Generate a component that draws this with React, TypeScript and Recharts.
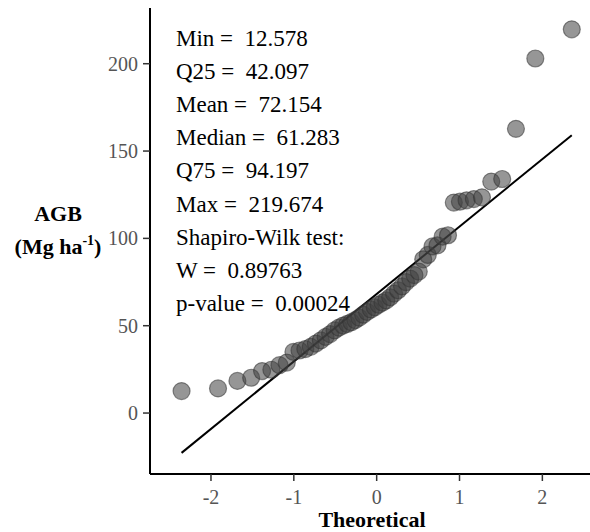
import React from 'react';
import {
  ScatterChart, Scatter, XAxis, YAxis, ReferenceLine,
} from 'recharts';

// theoretical normal quantiles for n = 54
const theoretical = [
  -2.355, -1.915, -1.681, -1.515, -1.383, -1.271, -1.173, -1.085, -1.005, -0.931,
  -0.861, -0.796, -0.734, -0.674, -0.617, -0.562, -0.508, -0.456, -0.405, -0.355,
  -0.306, -0.258, -0.210, -0.163, -0.116, -0.070, -0.023, 0.023, 0.070, 0.116,
  0.163, 0.210, 0.258, 0.306, 0.355, 0.405, 0.456, 0.508, 0.562, 0.617,
  0.674, 0.734, 0.796, 0.861, 0.931, 1.005, 1.085, 1.173, 1.271, 1.383,
  1.515, 1.681, 1.915, 2.355,
];

// sorted AGB sample (Mg ha-1)
const agb = [
  12.578, 14.1, 18.4, 20.2, 24.0, 24.8, 27.4, 28.9, 35.0, 35.8,
  36.6, 37.9, 39.8, 41.6, 43.6, 45.2, 47.3, 48.9, 50.1, 51.0,
  52.0, 53.2, 54.6, 56.3, 57.9, 59.3, 60.566, 62.0, 63.2, 64.5,
  66.3, 68.4, 70.3, 72.5, 75.0, 77.0, 79.0, 81.0, 88.0, 90.5,
  95.4, 96.0, 101.0, 101.8, 120.5, 121.0, 121.8, 122.5, 123.5, 132.5,
  134.0, 162.7, 203.0, 219.674,
];

// qq line through the quartiles
const qqLine = [
  { x: -2.355, y: -22.8 },
  { x: 2.355, y: 159.1 },
];

const xTicks = [-2, -1, 0, 1, 2];
const yTicks = [0, 50, 100, 150, 200];

const statsLines = [
  'Min =  12.578',
  'Q25 =  42.097',
  'Mean =  72.154',
  'Median =  61.283',
  'Q75 =  94.197',
  'Max =  219.674',
  'Shapiro-Wilk test:',
  'W =  0.89763',
  'p-value =  0.00024',
];

const FONT = '"Liberation Serif", "Times New Roman", serif';

const points = theoretical.map((x, i) => ({ x, y: agb[i] }));

function Dot(props: any) {
  return (
    <circle
      cx={props.cx}
      cy={props.cy}
      r={8.5}
      fill="#404040"
      fillOpacity={0.55}
      stroke="#333333"
      strokeOpacity={0.55}
      strokeWidth={1.2}
    />
  );
}

function YLabel() {
  return (
    <g fontFamily={FONT} fontWeight="bold" fontSize={22} fill="#000">
      <text x={58} y={221} textAnchor="middle">AGB</text>
      <text x={58} y={254} textAnchor="middle">
        (Mg ha<tspan fontSize={14} dy={-9}>-1</tspan><tspan dy={9}>)</tspan>
      </text>
    </g>
  );
}

function XLabel() {
  return (
    <text x={372} y={527} textAnchor="middle" fontFamily={FONT} fontWeight="bold" fontSize={22} fill="#000">
      Theoretical
    </text>
  );
}

export default function App() {
  return (
    <div style={{ position: 'absolute', left: 0, top: 0, background: '#fff' }}>
      <ScatterChart width={590} height={532} margin={{ top: 8, right: 0, bottom: 0, left: 0 }}>
        <XAxis
          type="number"
          dataKey="x"
          domain={[-2.736, 2.575]}
          ticks={xTicks}
          height={58}
          axisLine={{ stroke: '#000', strokeWidth: 2 }}
          tickLine={{ stroke: '#333', strokeWidth: 1.5 }}
          tickSize={7}
          tickMargin={9}
          tick={{ fill: '#555', fontSize: 20, fontFamily: FONT }}
          label={{ content: () => <XLabel /> }}
        />
        <YAxis
          type="number"
          dataKey="y"
          domain={[-34.9, 231.9]}
          ticks={yTicks}
          width={150}
          axisLine={{ stroke: '#000', strokeWidth: 2 }}
          tickLine={{ stroke: '#333', strokeWidth: 1.5 }}
          tickSize={7}
          tickMargin={5}
          tick={{ fill: '#555', fontSize: 20, fontFamily: FONT }}
          label={{ content: () => <YLabel /> }}
        />
        <Scatter data={points} shape={<Dot />} isAnimationActive={false} />
        <ReferenceLine
          segment={qqLine}
          stroke="#000"
          strokeWidth={2}
          ifOverflow="extendDomain"
        />
        <g fontFamily={FONT} fontSize={23} fill="#000">
          {statsLines.map((s, i) => (
            <text key={s} x={176} y={45.5 + i * 33.2} xmlSpace="preserve" style={{ whiteSpace: 'pre' }}>
              {s}
            </text>
          ))}
        </g>
      </ScatterChart>
    </div>
  );
}
